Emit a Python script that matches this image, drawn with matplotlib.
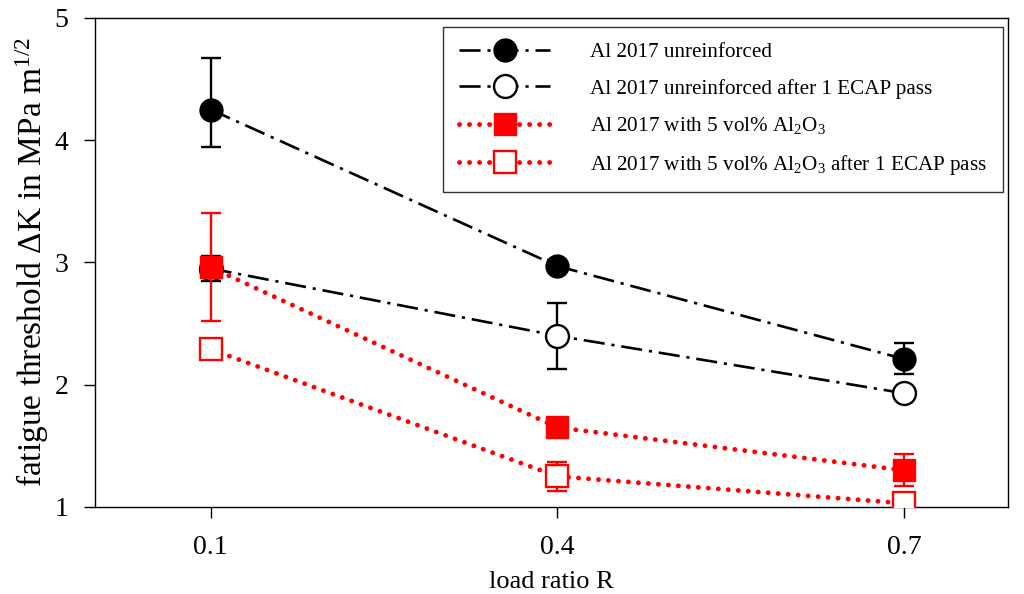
import numpy as np
import matplotlib.pyplot as plt

plt.rcParams['font.family'] = ['Liberation Serif', 'DejaVu Serif']
plt.rcParams['mathtext.fontset'] = 'custom'
plt.rcParams['mathtext.rm'] = 'Liberation Serif'
plt.rcParams['mathtext.it'] = 'Liberation Serif:italic'

# load ratio R
r = [0.1, 0.4, 0.7]

# Al 2017 unreinforced
unr = [4.25, 2.97, 2.21]
unr_lo = [0.31, 0.05, 0.12]
unr_hi = [0.42, 0.05, 0.13]

# Al 2017 unreinforced after 1 ECAP pass
unr_ecap = [2.95, 2.40, 1.93]
unr_ecap_err = [0.10, 0.27, 0.0]

# Al 2017 with 5 vol% Al2O3
comp = [2.96, 1.65, 1.30]
comp_err = [0.44, 0.0, 0.13]

# Al 2017 with 5 vol% Al2O3 after 1 ECAP pass
comp_ecap = [2.29, 1.25, 1.03]
comp_ecap_err = [0.0, 0.12, 0.0]

labels = ['Al 2017 unreinforced',
          'Al 2017 unreinforced after 1 ECAP pass',
          r'Al 2017 with 5 vol% Al$_\mathregular{2}$O$_\mathregular{3}$',
          r'Al 2017 with 5 vol% Al$_\mathregular{2}$O$_\mathregular{3}$ after 1 ECAP pass']

fig = plt.figure(figsize=(10.24, 5.94), dpi=100)
ax = fig.add_axes([0.0928, 0.1465, 0.8916, 0.8235])

dashdot = (0, (8, 2.6, 1.2, 2.6))
dotted = (0, (0.01, 2.05))

e1 = ax.errorbar(r, unr, yerr=[unr_lo, unr_hi], color='black', ls=dashdot, lw=1.9,
                 marker='o', ms=16.5, mfc='black', mec='black', ecolor='black',
                 elinewidth=1.7, capsize=7, capthick=1.7, zorder=3)
e2 = ax.errorbar(r, unr_ecap, yerr=unr_ecap_err, color='black', ls=dashdot, lw=1.9,
                 marker='o', ms=16.5, mfc='white', mec='black', mew=1.7, ecolor='black',
                 elinewidth=1.7, capsize=7, capthick=1.7, zorder=3)
e3 = ax.errorbar(r, comp, yerr=comp_err, color='red', ls=dotted, lw=3.5,
                 dash_capstyle='round', marker='s', ms=15.5, mfc='red', mec='red',
                 ecolor='red', elinewidth=1.7, capsize=7, capthick=1.7, zorder=4)
e4 = ax.errorbar(r, comp_ecap, yerr=comp_ecap_err, color='red', ls=dotted, lw=3.5,
                 dash_capstyle='round', marker='s', ms=15.5, mfc='white', mec='red',
                 mew=1.7, ecolor='red', elinewidth=1.7, capsize=7, capthick=1.7, zorder=4)

ax.set_xlim(0.0, 0.79)
ax.set_ylim(1, 5)
ax.set_xticks(r)
ax.set_xticklabels(['0.1', '0.4', '0.7'])
ax.set_yticks([1, 2, 3, 4, 5])
ax.tick_params(direction='out', length=8, width=1, labelsize=20, pad=11)
ax.tick_params(axis='x', pad=12)
for s in ax.spines.values():
    s.set_linewidth(1.0)

ax.set_xlabel('load ratio R', fontsize=19, labelpad=8)
ax.set_ylabel(r'fatigue threshold $\Delta$K in MPa m$^\mathregular{1/2}$', fontsize=24, labelpad=3)

handles = [e[0] for e in (e1, e2, e3, e4)]
leg = ax.legend(handles, labels, loc='upper right', bbox_to_anchor=(0.9945, 0.982),
                fontsize=15.2, handlelength=4.3, numpoints=1, frameon=True,
                fancybox=False, edgecolor='black', borderpad=0.75, labelspacing=0.78,
                handletextpad=1.9, borderaxespad=0)
leg.get_frame().set_linewidth(1.0)

fig.savefig('out.png', dpi=100)
